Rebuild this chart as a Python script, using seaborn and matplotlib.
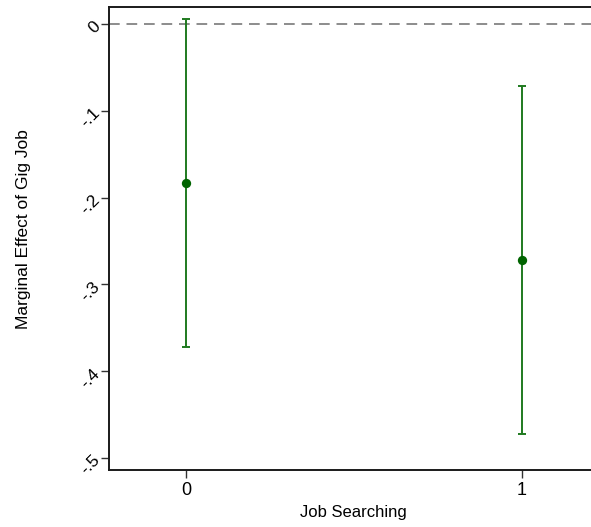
import matplotlib
matplotlib.use("Agg")
import matplotlib.pyplot as plt
import seaborn as sns
import pandas as pd

# Marginal effect of a gig job by job-search status, with 95% CIs
job_searching = [0, 1]
effect = [-0.183, -0.272]
ci_low = [-0.372, -0.472]
ci_high = [0.006, -0.0714]
y_ticks = [0, -0.1, -0.2, -0.3, -0.4, -0.5]
y_tick_labels = ["0", "-.1", "-.2", "-.3", "-.4", "-.5"]

df = pd.DataFrame({"x": job_searching, "y": effect, "lo": ci_low, "hi": ci_high})

sns.set_theme(style="white")
plt.rcParams["font.family"] = ["Liberation Sans", "DejaVu Sans"]

fig = plt.figure(figsize=(5.91, 5.27), dpi=100)
ax = fig.add_axes([0.1844, 0.1082, 0.8156, 0.8785])

ax.axhline(0, color="#8c8c8c", lw=1.4, ls=(0, (5.5, 3.5)), zorder=1)

ax.errorbar(df["x"], df["y"],
            yerr=[df["y"] - df["lo"], df["hi"] - df["y"]],
            fmt="none", ecolor="#1f7a1f", elinewidth=1.4,
            capsize=3, capthick=1.4, zorder=2)
sns.scatterplot(data=df, x="x", y="y", color="#006400", s=45,
                edgecolor="#006400", linewidth=0, ax=ax, zorder=3)

ax.set_xlim(-0.229, 1.205)
ax.set_ylim(-0.514, 0.0196)
ax.set_xticks(job_searching)
ax.set_xticklabels([str(v) for v in job_searching], fontsize=13, color="black")
ax.set_yticks(y_ticks)
ax.set_yticklabels(y_tick_labels, fontsize=12.5, color="black")
for lab in ax.get_yticklabels():
    lab.set_rotation(45)
    lab.set_rotation_mode("anchor")
    lab.set_ha("right")
    lab.set_va("center")

ax.tick_params(axis="both", direction="out", length=6, width=1,
               color="#333333", left=True, bottom=True)
ax.tick_params(axis="y", pad=2)
ax.tick_params(axis="x", pad=3)

for side in ["left", "bottom", "top"]:
    ax.spines[side].set_visible(True)
    ax.spines[side].set_color("#1a1a1a")
    ax.spines[side].set_linewidth(1.4)
ax.spines["right"].set_visible(False)

ax.set_xlabel("Job Searching", fontsize=12, color="black")
ax.set_ylabel("Marginal Effect of Gig Job", fontsize=12.5, color="black")
ax.xaxis.set_label_coords(0.508, -0.075)
ax.yaxis.set_label_coords(-0.161, 0.52)

fig.savefig("out.png", dpi=100)
